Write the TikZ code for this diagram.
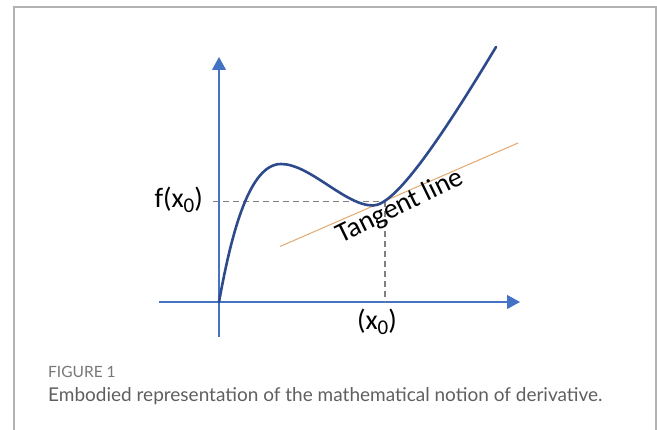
\documentclass[tikz,border=0pt]{standalone}
\usepackage{fontspec}
\setmainfont{Carlito}
\newfontfamily\capfont{Lato}
\usetikzlibrary{arrows.meta, positioning}
\definecolor{axblue}{RGB}{68, 114, 196}
\definecolor{curveblue}{RGB}{45, 74, 140}
\definecolor{tanorange}{RGB}{226, 168, 110}
\definecolor{dashgray}{RGB}{128, 128, 128}
\definecolor{framegray}{RGB}{178, 178, 178}
\definecolor{capgray}{RGB}{95, 95, 95}
\newcommand{\lowsub}[1]{\raisebox{-0.35ex}{\fontsize{21}{21}\selectfont #1}}

\begin{document}
\begin{tikzpicture}[x=1pt, y=-1pt,
  axis/.style={axblue, line width=1.1pt, -{Triangle[length=13pt, width=14pt]}},
  guide/.style={dashgray, line width=1.2pt, dash pattern=on 6pt off 4pt},
  lbl/.style={font=\fontsize{28}{28}\selectfont, inner sep=0pt}]

  \useasboundingbox (0,0) rectangle (657,430);
  \draw[framegray, line width=2pt] (14,431) -- (14,7) -- (656,7) -- (656,431);

  % axes
  \coordinate (O) at (219,302);
  \coordinate (xstart) at (159,302);
  \coordinate (xend) at (520,302);
  \coordinate (ystart) at (219,337);
  \coordinate (yend) at (219,57);
  \draw[axis] (xstart) -- (xend);
  \draw[axis] (ystart) -- (yend);

  % point of tangency and guides
  \coordinate (P) at (385,201.5);
  \coordinate (Py) at (213,201.5);
  \coordinate (Px) at (385,302);
  \draw[guide] (Py) -- (P);
  \draw[guide] (P) -- (Px);

  % tangent line
  \coordinate (tA) at (280,246.5);
  \coordinate (tB) at (518,143);
  \draw[tanorange, line width=1pt] (tA) -- (tB);

  % the function
  \coordinate (peak) at (281,164);
  \coordinate (dip) at (373,205.5);
  \coordinate (top) at (496,47);
  \draw[curveblue, line width=2.6pt, line cap=round]
    (O) .. controls (232,230) and (250,164) .. (peak)
        .. controls (310,164) and (345,205.5) .. (dip)
        .. controls (395,205.5) and (440,140) .. (top);

  \node[lbl, anchor=east] (fx) at (203,200) {f(x\lowsub{0})};
  \node[lbl] (x0) at (377,322) {(x\lowsub{0})};
  \node[lbl, rotate=26] (tl) at (400,207) {Tangent line};

  % caption
  \node[anchor=west, inner sep=0pt, text=capgray!85,
        font=\capfont\fontsize{15.5}{15.5}\selectfont] (fig) at (48,372) {FIGURE 1};
  \node[anchor=west, inner sep=0pt, text=capgray,
        font=\capfont\fontsize{19}{19}\selectfont] (cap) at (48,396)
        {Embodied representation of the mathematical notion of derivative.};
\end{tikzpicture}
\end{document}
